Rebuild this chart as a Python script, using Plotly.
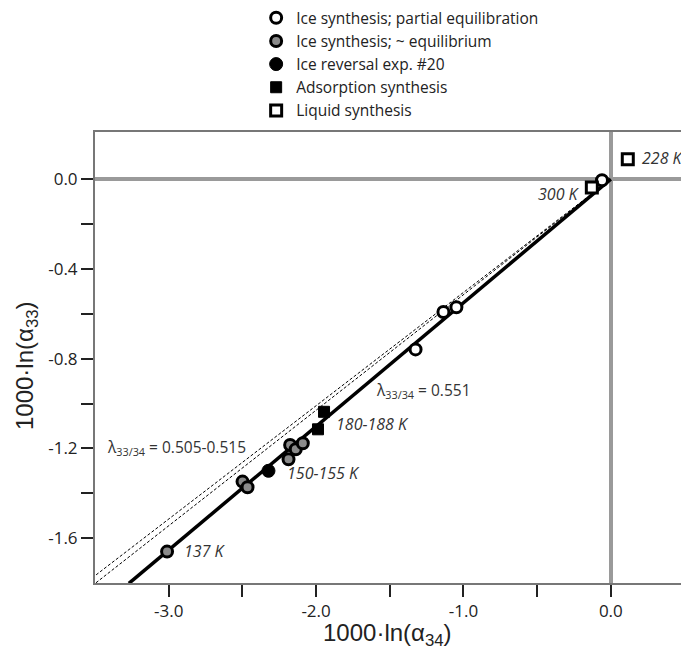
import plotly.graph_objects as go

# ---------------- data ----------------
partial_x = [-1.136, -1.048, -1.325, -0.06]
partial_y = [-0.592, -0.571, -0.759, -0.005]

equil_x = [-3.011, -2.499, -2.465, -2.187, -2.176, -2.138, -2.090]
equil_y = [-1.660, -1.348, -1.373, -1.249, -1.185, -1.204, -1.177]

reversal_x = [-2.323]
reversal_y = [-1.300]

adsorb_x = [-1.946, -1.987]
adsorb_y = [-1.037, -1.115]

liquid_x = [-0.129, 0.115]
liquid_y = [-0.037, 0.088]

fit_slope = 0.551
fit_x = [-3.27, 0.0]
dash_slopes = [0.505, 0.515]
dash_x = [-3.6, 0.0]

x_tickvals = [-3.0, -2.5, -2.0, -1.5, -1.0, -0.5, 0.0]
x_ticktext = ["-3.0", "", "-2.0", "", "-1.0", "", "0.0"]
y_tickvals = [0.0, -0.2, -0.4, -0.6, -0.8, -1.0, -1.2, -1.4, -1.6]
y_ticktext = ["0.0", "", "-0.4", "", "-0.8", "", "-1.2", "", "-1.6"]

legend_names = [
    "Ice synthesis; partial equilibration",
    "Ice synthesis; ~ equilibrium",
    "Ice reversal exp. #20",
    "Adsorption synthesis",
    "Liquid synthesis",
]

x_title = "1000·ln(α<sub>34</sub>)"
y_title = "1000·ln(α<sub>33</sub>)"

# ---------------- figure ----------------
FONT = "Open Sans"
fig = go.Figure()

for s in dash_slopes:
    fig.add_trace(go.Scatter(
        x=dash_x, y=[s * v for v in dash_x], mode="lines",
        line=dict(color="black", width=1, dash="3px,2px"),
        showlegend=False, hoverinfo="skip"))

fig.add_trace(go.Scatter(
    x=fit_x, y=[fit_slope * v for v in fit_x], mode="lines",
    line=dict(color="black", width=3.5), showlegend=False, hoverinfo="skip"))

fig.add_trace(go.Scatter(
    x=partial_x, y=partial_y, mode="markers", name=legend_names[0],
    marker=dict(symbol="circle", size=11, color="white",
                line=dict(color="black", width=3))))
fig.add_trace(go.Scatter(
    x=equil_x, y=equil_y, mode="markers", name=legend_names[1],
    marker=dict(symbol="circle", size=11, color="#8a8a8a",
                line=dict(color="black", width=3))))
fig.add_trace(go.Scatter(
    x=reversal_x, y=reversal_y, mode="markers", name=legend_names[2],
    marker=dict(symbol="circle", size=13, color="black",
                line=dict(color="black", width=1))))
fig.add_trace(go.Scatter(
    x=adsorb_x, y=adsorb_y, mode="markers", name=legend_names[3],
    marker=dict(symbol="square", size=11, color="black",
                line=dict(color="black", width=1))))
fig.add_trace(go.Scatter(
    x=liquid_x, y=liquid_y, mode="markers", name=legend_names[4],
    marker=dict(symbol="square", size=11, color="white",
                line=dict(color="black", width=3))))

it_font = dict(family=FONT, size=16, color="#333")
lam_font = dict(family=FONT, size=15.5, color="#333")
annotations = [
    dict(x=0.198, y=0.094, text="<i>228 K</i>", xanchor="left", font=it_font),
    dict(x=-0.194, y=-0.067, text="<i>300 K</i>", xanchor="right", font=it_font),
    dict(x=-1.881, y=-1.091, text="<i>180-188 K</i>", xanchor="left", font=it_font),
    dict(x=-2.212, y=-1.310, text="<i>150-155 K</i>", xanchor="left", font=it_font),
    dict(x=-2.910, y=-1.657, text="<i>137 K</i>", xanchor="left", font=it_font),
    dict(x=-1.610, y=-0.940, text="λ<sub>33/34</sub> = 0.551", xanchor="left", font=lam_font),
    dict(x=-3.431, y=-1.198, text="λ<sub>33/34</sub> = 0.505-0.515", xanchor="left", font=lam_font),
]
for a in annotations:
    fig.add_annotation(xref="x", yref="y", showarrow=False, yanchor="middle", **a)

title_font = dict(family="Liberation Sans", size=24, color="#222")
fig.add_annotation(xref="paper", yref="paper", x=0.499, y=-0.114,
                   text=x_title, showarrow=False, xanchor="center",
                   yanchor="middle", font=title_font)
fig.add_annotation(xref="paper", yref="paper", x=-0.118, y=0.483,
                   text=y_title, showarrow=False, xanchor="center",
                   yanchor="middle", textangle=-90, font=title_font)

axis_common = dict(
    showgrid=False, showline=True, linecolor="#777", linewidth=2,
    ticks="outside", ticklen=12, tickwidth=2, tickcolor="#222",
    zeroline=True, zerolinecolor="#9a9a9a", zerolinewidth=4,
    tickfont=dict(family=FONT, size=17, color="#222"),
    automargin=False,
)

fig.update_xaxes(
    range=[-3.5, 0.476], tickmode="array", tickvals=x_tickvals, ticktext=x_ticktext,
    mirror=True, **axis_common)
fig.update_yaxes(
    range=[-1.8, 0.21], tickmode="array", tickvals=y_tickvals, ticktext=y_ticktext,
    **axis_common)

fig.update_layout(
    width=681, height=650,
    margin=dict(l=95, r=0, t=132, b=67, pad=0),
    paper_bgcolor="white", plot_bgcolor="white",
    font=dict(family=FONT, color="#222"),
    showlegend=True,
    legend=dict(x=0.275, y=1.29, xanchor="left", yanchor="top",
                font=dict(family=FONT, size=15.5, color="#222"),
                bgcolor="rgba(0,0,0,0)", tracegroupgap=0),
)

fig.write_html("out.html",
               config={"displayModeBar": False},
               post_script="document.body.style.margin='0';document.body.style.overflow='hidden';")
